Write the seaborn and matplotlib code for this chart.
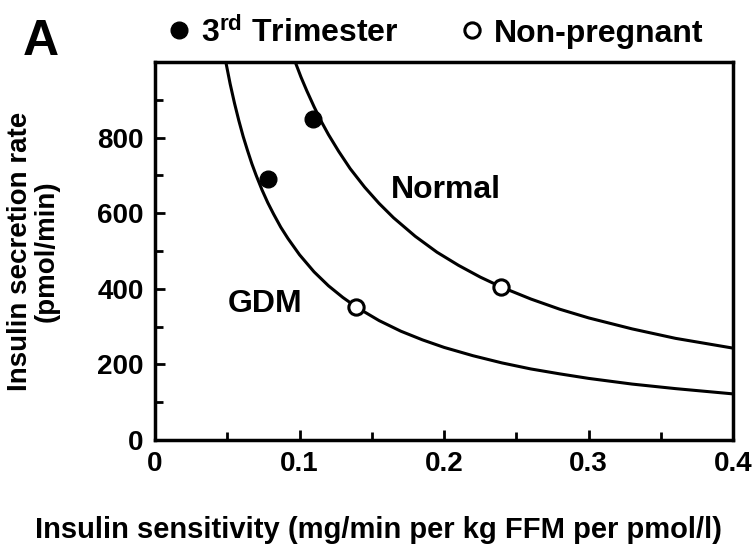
import numpy as np
import pandas as pd
import matplotlib
matplotlib.use("Agg")
import matplotlib.pyplot as plt
import seaborn as sns

# Curves (insulin sensitivity vs secretion rate)
gdm_x = [0.049, 0.052, 0.055, 0.058, 0.061, 0.064, 0.067, 0.07, 0.074, 0.078, 0.082, 0.087,
         0.092, 0.10, 0.11, 0.12, 0.13, 0.14, 0.155, 0.17, 0.185, 0.20, 0.22, 0.24, 0.26,
         0.28, 0.30, 0.33, 0.36, 0.40]
gdm_y = [1000, 942, 891, 845, 803, 766, 731, 700, 662, 628, 598, 563,
         533, 490, 445, 408, 377, 350, 316, 288, 265, 245, 223, 204, 188,
         175, 163, 148, 136, 122]
normal_x = [0.097, 0.101, 0.105, 0.11, 0.115, 0.12, 0.127, 0.135, 0.145, 0.155, 0.165, 0.18,
            0.195, 0.21, 0.225, 0.24, 0.26, 0.28, 0.30, 0.33, 0.36, 0.40]
normal_y = [1000, 960, 924, 882, 843, 808, 764, 718, 669, 626, 588, 539,
            497, 462, 431, 404, 373, 346, 323, 294, 269, 243]

# Points
trimester_x = [0.078, 0.109]
trimester_y = [690, 850]
nonpreg_x = [0.139, 0.239]
nonpreg_y = [352, 405]

sns.set_style("white")
plt.rcParams["font.family"] = ["Liberation Sans", "DejaVu Sans"]
plt.rcParams["font.weight"] = "bold"
plt.rcParams["text.color"] = "black"
plt.rcParams["xtick.color"] = "black"
plt.rcParams["ytick.color"] = "black"
plt.rcParams["axes.labelcolor"] = "black"
plt.rcParams["mathtext.fontset"] = "custom"
plt.rcParams["mathtext.rm"] = "Liberation Sans:bold"
plt.rcParams["mathtext.it"] = "Liberation Sans:bold"

fig = plt.figure(figsize=(7.56, 5.49), dpi=100)
ax = fig.add_axes([0.205, 0.1985, 0.765, 0.6885])

curves = pd.concat([
    pd.DataFrame({"x": gdm_x, "y": gdm_y, "group": "GDM"}),
    pd.DataFrame({"x": normal_x, "y": normal_y, "group": "Normal"}),
])
sns.lineplot(data=curves, x="x", y="y", units="group", estimator=None, sort=False,
             color="black", linewidth=2.2, ax=ax, legend=False)

ax.plot(trimester_x, trimester_y, "o", color="black", markersize=12, linestyle="none",
        label="3$^{rd}$ Trimester", zorder=5)
ax.plot(nonpreg_x, nonpreg_y, "o", markerfacecolor="white", markeredgecolor="black",
        markeredgewidth=2.2, markersize=11, linestyle="none", label="Non-pregnant", zorder=5)

ax.set_xlim(0, 0.4)
ax.set_ylim(0, 1000)
ax.set_xticks([0, 0.1, 0.2, 0.3, 0.4])
ax.set_xticklabels(["0", "0.1", "0.2", "0.3", "0.4"])
ax.set_yticks([0, 200, 400, 600, 800])
ax.set_xticks(np.arange(0.05, 0.4, 0.1), minor=True)
ax.set_yticks(np.arange(100, 1000, 200), minor=True)
ax.tick_params(which="major", direction="in", length=7, width=2, labelsize=20, pad=8,
               left=True, bottom=True)
ax.tick_params(which="minor", direction="in", length=6, width=2, left=True, bottom=True)
for s in ax.spines.values():
    s.set_linewidth(2.5)
    s.set_color("black")

ax.set_xlabel("Insulin sensitivity (mg/min per kg FFM per pmol/l)", fontsize=21,
              fontweight="bold")
ax.set_ylabel("Insulin secretion rate\n(pmol/min)", fontsize=20, fontweight="bold",
              linespacing=1.05)
ax.xaxis.set_label_coords(0.386, -0.2)
ax.yaxis.set_label_coords(-0.165, 0.5)

ax.text(0.163, 640, "Normal", fontsize=23, fontweight="bold")
ax.text(0.05, 340, "GDM", fontsize=23, fontweight="bold")

fig.text(0.03, 0.9, "A", fontsize=36, fontweight="bold")
ax.legend(loc="lower left", bbox_to_anchor=(-0.02, 0.985), ncol=2, frameon=False,
          fontsize=23, handletextpad=0.2, columnspacing=1.8, borderpad=0.1,
          handlelength=1.0)

fig.savefig("out.png", dpi=100)
